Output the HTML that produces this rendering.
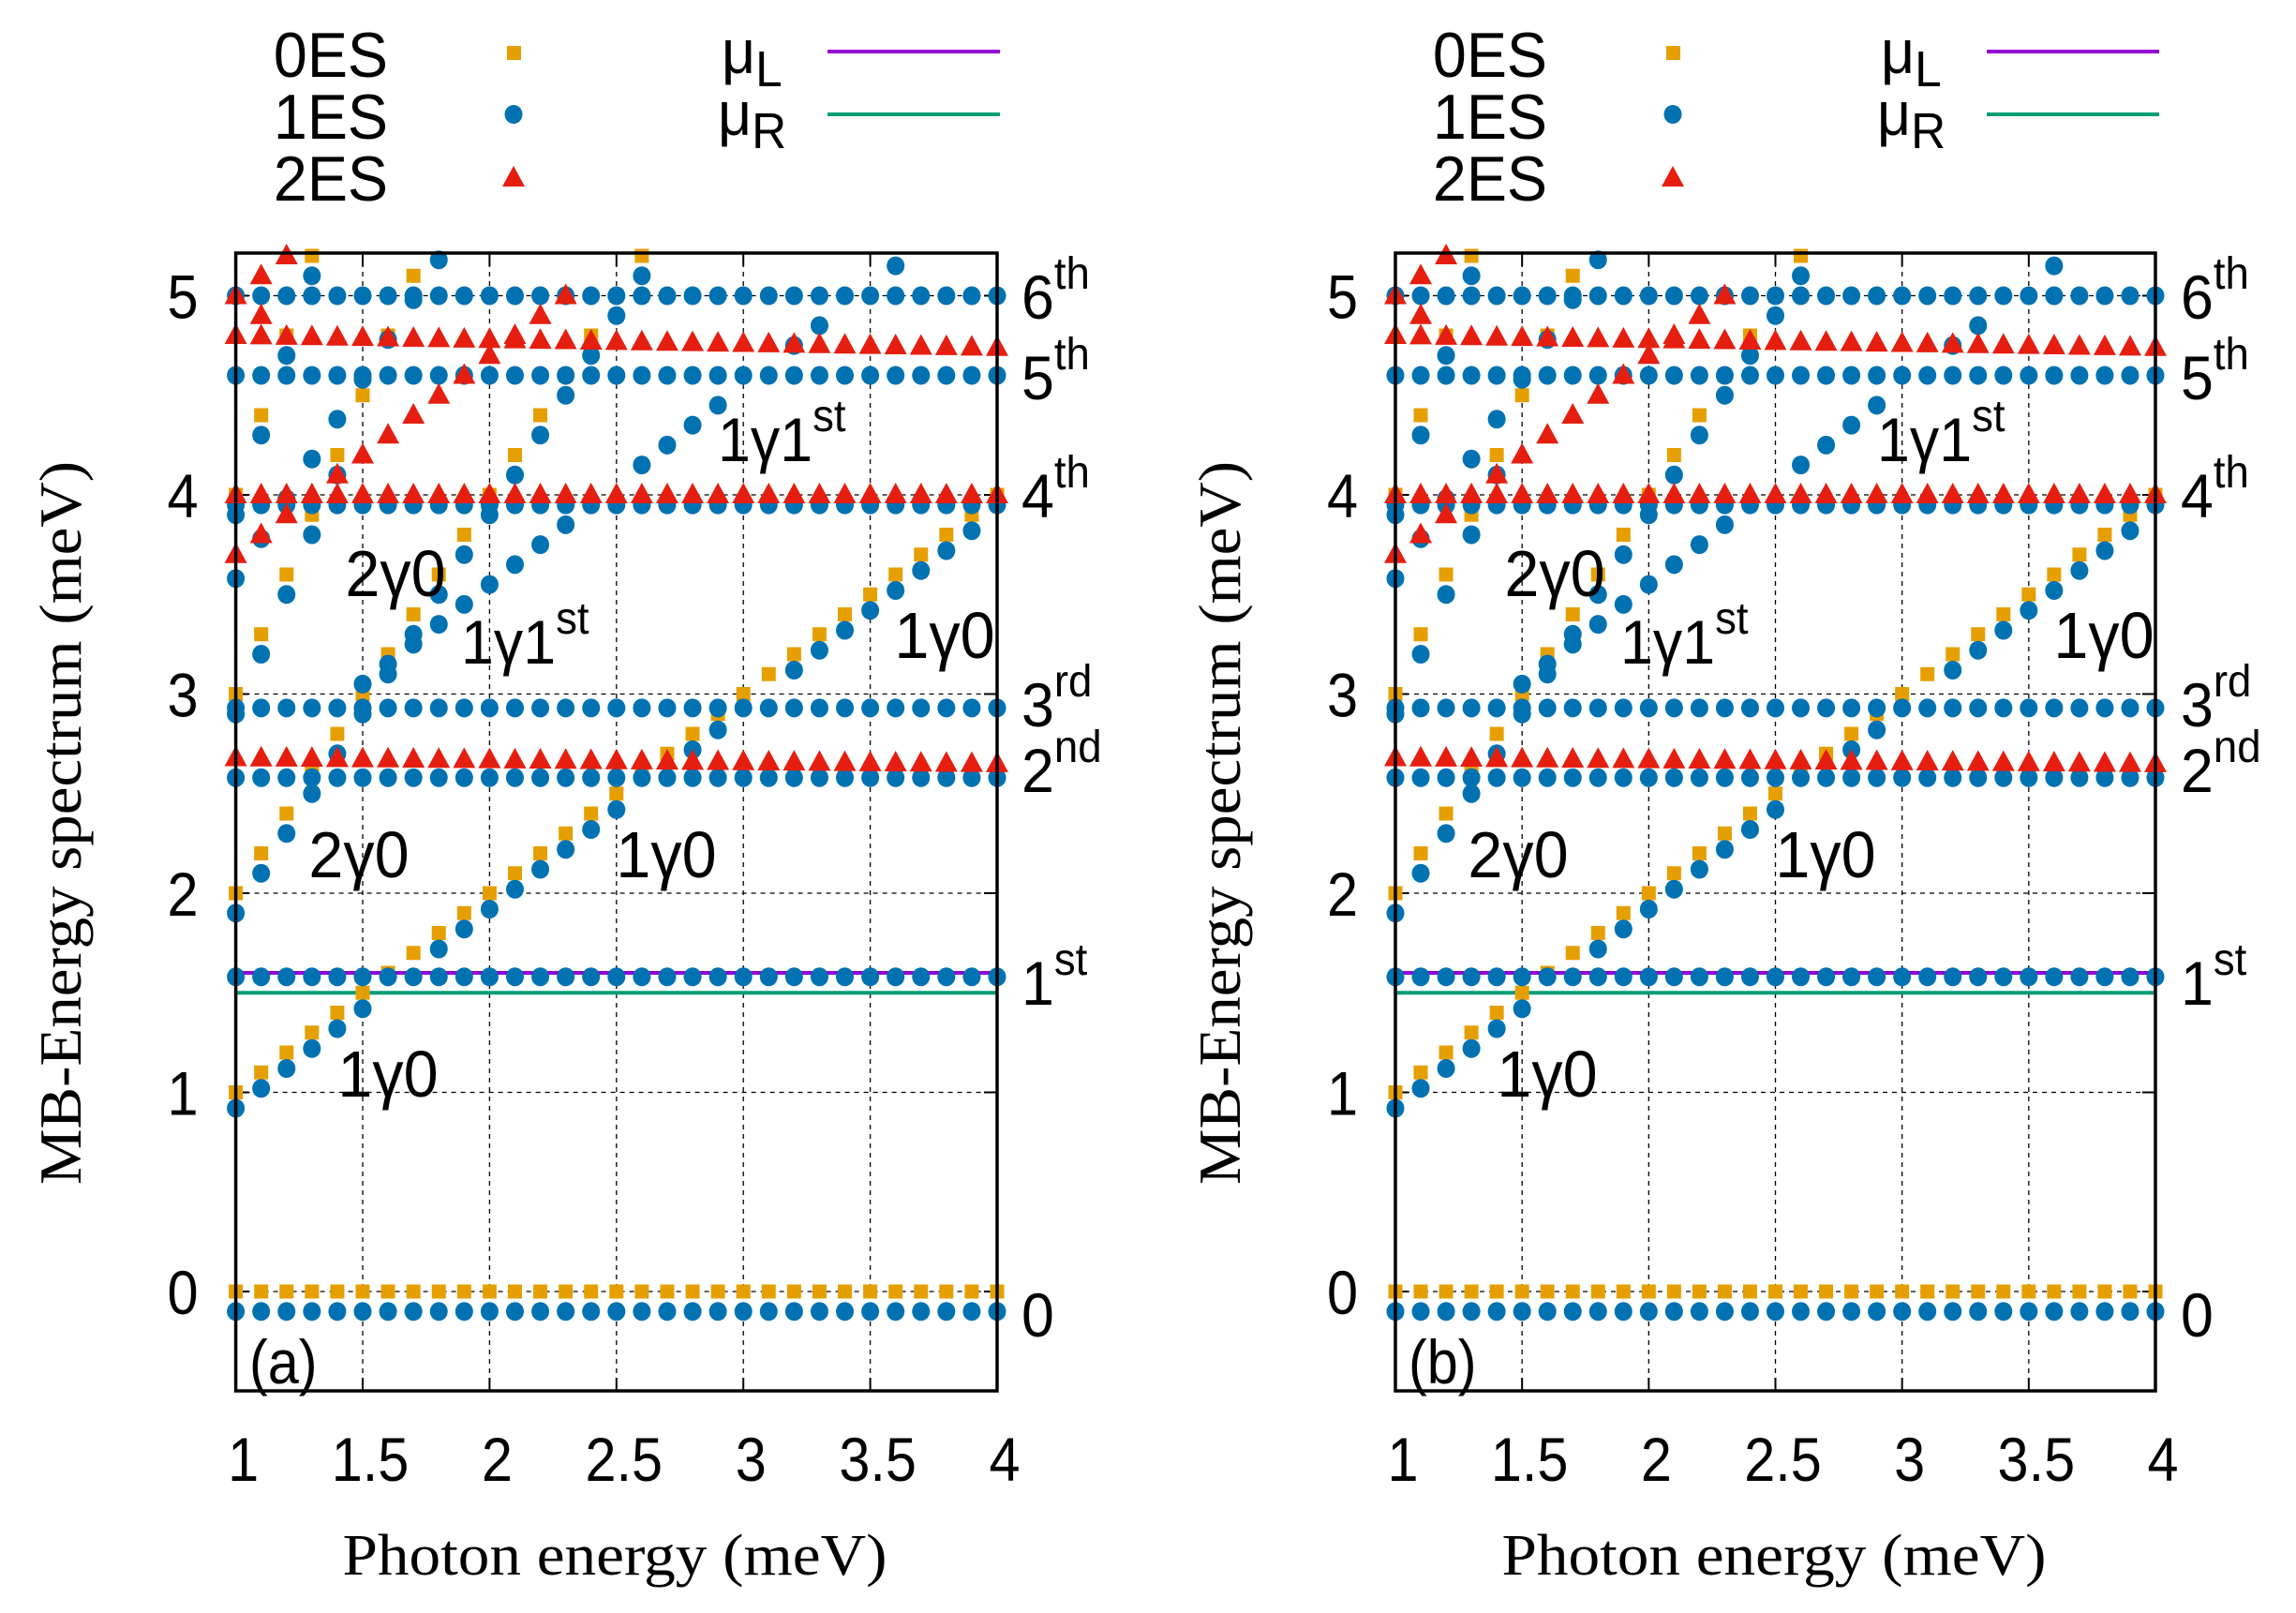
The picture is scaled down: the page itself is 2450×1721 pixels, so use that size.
<!DOCTYPE html>
<html><head><meta charset="utf-8"><style>
html,body{margin:0;padding:0;background:#fff;}
svg{display:block;}
text{font-family:"Liberation Sans",sans-serif;fill:#000;}
.serif{font-family:"Liberation Serif",serif;}
</style></head><body>
<svg id="s" xmlns="http://www.w3.org/2000/svg" width="2450" height="1721" viewBox="0 0 2450 1721"></svg>
<script>
var S=document.getElementById('s'),out='';
var OR='#e69f00',BL='#0072b2',RD='#e51e10';
function T(x,y,t,fs,anchor,sx,extra){sx=sx||0.82;anchor=anchor||'start';
 out+='<g transform="translate('+x+','+y+') scale('+sx+',1)"><text x="0" y="0" font-size="'+fs+'" text-anchor="'+anchor+'" '+(extra||'')+'>'+t+'</text></g>';}
function sup(x,y,a,b){
 out+='<g transform="translate('+x+','+y+') scale(0.95,1)"><text x="0" y="0" font-size="66">'+a+'<tspan font-size="48" dy="-32">'+b+'</tspan></text></g>';}
function panel(L,R,lab,dx){
 var top=270,bot=1484,y0=1378,ky=212.5,kx=(R-L)/3;
 function px(x){return L+(x-1)*kx;} function py(y){return y0-y*ky;}
 for(var x=1.5;x<4;x+=0.5){out+='<line x1="'+px(x)+'" y1="'+top+'" x2="'+px(x)+'" y2="'+bot+'" stroke="#000" stroke-width="1.3" stroke-dasharray="5,5"/>';}
 for(var y=0;y<=5;y++){out+='<line x1="'+L+'" y1="'+py(y)+'" x2="'+R+'" y2="'+py(y)+'" stroke="#000" stroke-width="1.3" stroke-dasharray="5,5"/>';
  out+='<line x1="'+L+'" y1="'+py(y)+'" x2="'+(L+14)+'" y2="'+py(y)+'" stroke="#000" stroke-width="2"/><line x1="'+(R-14)+'" y1="'+py(y)+'" x2="'+R+'" y2="'+py(y)+'" stroke="#000" stroke-width="2"/>';
  T(L-40,py(y)+24,''+y,66,'end',0.9);}
 for(var i=0;i<=6;i++){var x=1+i*0.5;out+='<line x1="'+px(x)+'" y1="'+bot+'" x2="'+px(x)+'" y2="'+(bot-14)+'" stroke="#000" stroke-width="2"/><line x1="'+px(x)+'" y1="'+top+'" x2="'+px(x)+'" y2="'+(top+14)+'" stroke="#000" stroke-width="2"/>';
  T(px(x)+8,1580,''+x,66,'middle',0.9);}
 out+='<line x1="'+L+'" y1="'+py(1.6)+'" x2="'+R+'" y2="'+py(1.6)+'" stroke="#9400d3" stroke-width="4"/>';
 out+='<line x1="'+L+'" y1="'+py(1.5)+'" x2="'+R+'" y2="'+py(1.5)+'" stroke="#009e73" stroke-width="4"/>';
 function sq(x,y){if(y>5.22||y<-0.5)return;out+='<rect x="'+(px(x)-7.5)+'" y="'+(py(y)-7.5)+'" width="15" height="15" fill="'+OR+'"/>';}
 function ci(x,y){if(y>5.22||y<-0.5)return;out+='<ellipse cx="'+px(x)+'" cy="'+py(y)+'" rx="9.5" ry="10" fill="'+BL+'"/>';}
 function tr(x,y){if(y>5.24||y<-0.5)return;var X=px(x),Y=py(y);out+='<polygon points="'+(X-12)+','+(Y+9)+' '+(X+12)+','+(Y+9)+' '+X+','+(Y-13)+'" fill="'+RD+'"/>';}
 var xs=[];for(var i=0;i<=30;i++)xs.push(1+i*0.1);
 xs.forEach(function(x){
  sq(x,0);sq(x,x);sq(x,2*x);sq(x,3*x);sq(x,4*x);
  ci(x,-0.1);ci(x,1.58);ci(x,2.58);ci(x,2.93);ci(x,3.95);ci(x,4.6);ci(x,5.0);
  var d=x-0.08; if(Math.abs(d-1.58)>0.1&&Math.abs(d-2.58)>0.1&&Math.abs(d-2.93)>0.1&&Math.abs(d-3.95)>0.1)ci(x,d);
  ci(x,2*x-0.1); if(x<1.5)ci(x,3*x-0.1); if(x<1.4)ci(x,4*x-0.1);
  if(x>=1.5&&x<=3.7){var e=x+1.55;if(Math.abs(e-3.95)>0.1&&Math.abs(e-4.6)>0.1&&Math.abs(e-5)>0.1)ci(x,e);}
  if(x<=2.0)ci(x,2*x+1.58);
  tr(x,2.68-0.03*(x-1)/3);tr(x,4.0);tr(x,4.8-0.06*(x-1)/3);
  if(x<=2.4)tr(x,x+2.7);
  if(x<=1.25)tr(x,x+4);
 });
 tr(1.1,4.9);
 out+='<rect x="'+L+'" y="'+top+'" width="'+(R-L)+'" height="'+(bot-top)+'" fill="none" stroke="#000" stroke-width="3.5"/>';
 var g='γ',F=70,SX=0.95;
 T(dx+422,636,'2'+g+'0',F,'middle',SX);
 sup(dx+492,708,'1'+g+'1','st');
 sup(dx+766,492,'1'+g+'1','st');
 T(dx+1008,702,'1'+g+'0',F,'middle',SX);
 T(dx+383,936,'2'+g+'0',F,'middle',SX);
 T(dx+711,936,'1'+g+'0',F,'middle',SX);
 T(dx+414,1170,'1'+g+'0',F,'middle',SX);
 T(dx+266,1476,'('+lab+')',66,'start',0.9);
 sup(dx+1090,340,'6','th');sup(dx+1090,426,'5','th');sup(dx+1090,552,'4','th');
 sup(dx+1090,775,'3','rd');sup(dx+1090,845,'2','nd');sup(dx+1090,1072,'1','st');
 T(dx+1090,1426,'0',66,'start',0.95);
 out+='<text class="serif" x="'+(dx+656)+'" y="1680" font-size="62" text-anchor="middle" textLength="581" lengthAdjust="spacingAndGlyphs">Photon energy (meV)</text>';
 out+='<text class="serif" transform="translate('+(dx+86)+',878) rotate(-90)" x="0" y="0" font-size="64" text-anchor="middle" textLength="772" lengthAdjust="spacingAndGlyphs">MB-Energy spectrum (meV)</text>';
 T(dx+414,82,'0ES',68,'end',0.95);T(dx+414,148,'1ES',68,'end',0.95);T(dx+414,214,'2ES',68,'end',0.95);
 out+='<rect x="'+(dx+541)+'" y="49" width="15" height="15" fill="'+OR+'"/>';
 out+='<ellipse cx="'+(dx+548)+'" cy="122" rx="9.5" ry="10" fill="'+BL+'"/>';
 out+='<polygon points="'+(dx+536)+',199 '+(dx+560)+',199 '+(dx+548)+',177" fill="'+RD+'"/>';
 out+='<g transform="translate('+(dx+770)+',78) scale(0.95,1)"><text font-size="66">μ<tspan font-size="54" dy="14">L</tspan></text></g>';
 out+='<g transform="translate('+(dx+766)+',144) scale(0.95,1)"><text font-size="66">μ<tspan font-size="54" dy="14">R</tspan></text></g>';
 out+='<line x1="'+(dx+883)+'" y1="55" x2="'+(dx+1067)+'" y2="55" stroke="#9400d3" stroke-width="4"/>';
 out+='<line x1="'+(dx+883)+'" y1="122" x2="'+(dx+1067)+'" y2="122" stroke="#009e73" stroke-width="4"/>';
}
panel(251.6,1064,'a',0);
panel(1489,2300,'b',1237);
S.innerHTML=out;
</script>
</body></html>
